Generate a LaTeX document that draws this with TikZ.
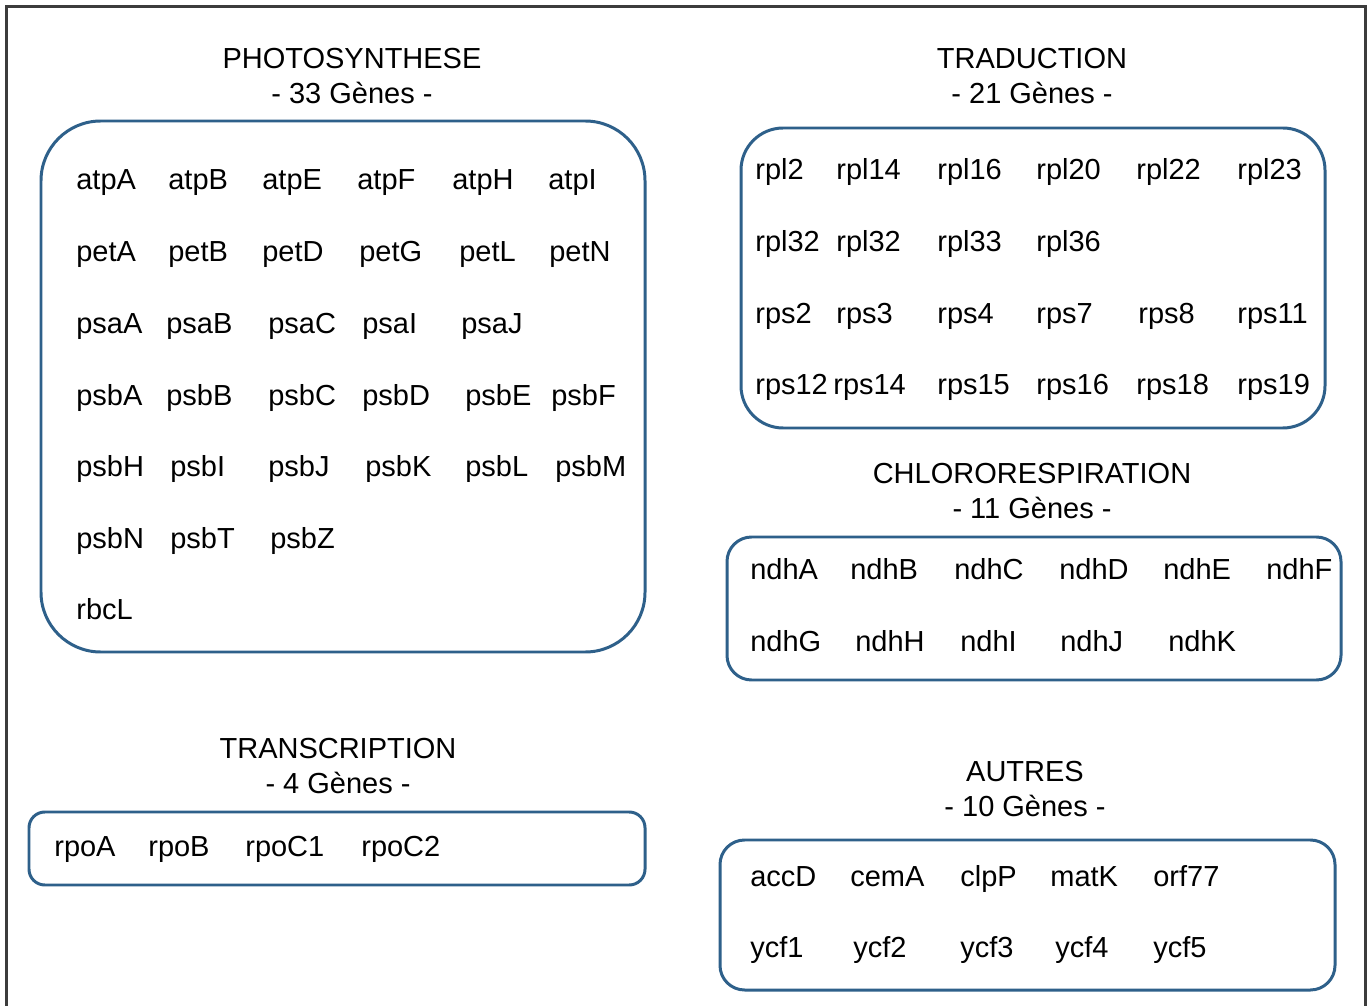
\documentclass[tikz,border=0pt]{standalone}
\usepackage{fontspec}
\setmainfont{Liberation Sans}
\usetikzlibrary{positioning}

\definecolor{boxblue}{RGB}{46,96,138}
\definecolor{framegray}{RGB}{60,60,60}

\tikzset{
  groupbox/.style={draw=boxblue, line width=1.7pt},
  title/.style={align=center, font=\fontsize{16.5}{20}\selectfont, inner sep=0pt},
  gene/.style={anchor=west, font=\fontsize{16.5}{20}\selectfont, inner sep=0pt,
               text height=0.72em, text depth=0pt, yshift=-1.6pt}
}

\begin{document}
\begin{tikzpicture}[x=0.02cm, y=-0.02cm]
\useasboundingbox (0,0) rectangle (1372,1006);
\fill[white] (0,0) rectangle (1372,1006);

% outer frame, open at the bottom
\draw[framegray, line width=1.2pt] (6.5,1006) -- (6.5,6.5) -- (1365.5,6.5) -- (1365.5,1006);

\begin{scope}
  \draw[groupbox, rounded corners=34pt] (41,121) rectangle (645,652);
  \draw[groupbox, rounded corners=24pt] (741,128) rectangle (1325,428);
  \draw[groupbox, rounded corners=14pt] (727,537) rectangle (1341,680);
  \draw[groupbox, rounded corners=9pt]  (29,812) rectangle (645,885);
  \draw[groupbox, rounded corners=14pt] (720,840) rectangle (1335,990);
\end{scope}

\begin{scope}
  \node[title] (photo) at (352,76)   {PHOTOSYNTHESE\\- 33 Gènes -};
  \node[title] (trad)  at (1032,76)  {TRADUCTION\\- 21 Gènes -};
  \node[title] (chlo)  at (1032,491) {CHLORORESPIRATION\\- 11 Gènes -};
  \node[title] (trans) at (338,766)  {TRANSCRIPTION\\- 4 Gènes -};
  \node[title] (autr)  at (1025,789) {AUTRES\\- 10 Gènes -};
\end{scope}

% photosynthese
\foreach \name/\x [count=\i] in {atpA/76, atpB/168, atpE/262, atpF/357, atpH/452, atpI/548}
  \node[gene] (ph-1-\i) at (\x,180) {\name};
\foreach \name/\x [count=\i] in {petA/76, petB/168, petD/262, petG/359, petL/459, petN/549}
  \node[gene] (ph-2-\i) at (\x,252) {\name};
\foreach \name/\x [count=\i] in {psaA/76, psaB/166, psaC/268, psaI/362, psaJ/461}
  \node[gene] (ph-3-\i) at (\x,324) {\name};
\foreach \name/\x [count=\i] in {psbA/76, psbB/166, psbC/268, psbD/362, psbE/465, psbF/551}
  \node[gene] (ph-4-\i) at (\x,396) {\name};
\foreach \name/\x [count=\i] in {psbH/76, psbI/170, psbJ/268, psbK/365, psbL/465, psbM/555}
  \node[gene] (ph-5-\i) at (\x,467) {\name};
\foreach \name/\x [count=\i] in {psbN/76, psbT/170, psbZ/270}
  \node[gene] (ph-6-\i) at (\x,539) {\name};
\node[gene] (ph-7-1) at (76,610) {rbcL};

% traduction
\foreach \name/\x [count=\i] in {rpl2/755, rpl14/836, rpl16/937, rpl20/1036, rpl22/1136, rpl23/1237}
  \node[gene] (tr-1-\i) at (\x,170) {\name};
\foreach \name/\x [count=\i] in {rpl32/755, rpl32/836, rpl33/937, rpl36/1036}
  \node[gene] (tr-2-\i) at (\x,242) {\name};
\foreach \name/\x [count=\i] in {rps2/755, rps3/836, rps4/937, rps7/1036, rps8/1138, rps11/1237}
  \node[gene] (tr-3-\i) at (\x,314) {\name};
\foreach \name/\x [count=\i] in {rps12/755, rps14/833, rps15/937, rps16/1036, rps18/1136, rps19/1237}
  \node[gene] (tr-4-\i) at (\x,385) {\name};

% chlororespiration
\foreach \name/\x [count=\i] in {ndhA/750, ndhB/850, ndhC/954, ndhD/1059, ndhE/1163, ndhF/1266}
  \node[gene] (ch-1-\i) at (\x,570) {\name};
\foreach \name/\x [count=\i] in {ndhG/750, ndhH/855, ndhI/960, ndhJ/1060, ndhK/1168}
  \node[gene] (ch-2-\i) at (\x,642) {\name};

% transcription
\foreach \name/\x [count=\i] in {rpoA/54, rpoB/148, rpoC1/245, rpoC2/361}
  \node[gene] (tc-1-\i) at (\x,847) {\name};

% autres
\foreach \name/\x [count=\i] in {accD/750, cemA/850, clpP/960, matK/1050, orf77/1153}
  \node[gene] (au-1-\i) at (\x,877) {\name};
\foreach \name/\x [count=\i] in {ycf1/750, ycf2/853, ycf3/960, ycf4/1055, ycf5/1153}
  \node[gene] (au-2-\i) at (\x,948) {\name};
\end{tikzpicture}
\end{document}
